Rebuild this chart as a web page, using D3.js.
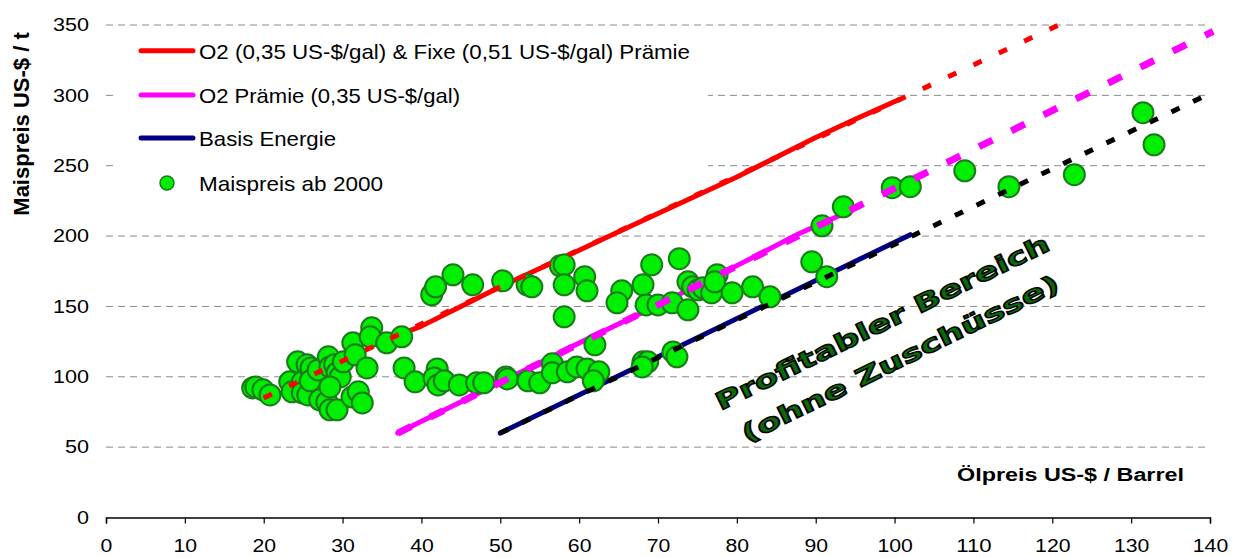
<!DOCTYPE html>
<html>
<head>
<meta charset="utf-8">
<script src="https://cdn.jsdelivr.net/npm/d3@7"></script>
<style>
body { margin:0; background:#fff; }
svg { display:block; }
</style>
</head>
<body>
<svg id="SvgContainer"></svg>
<script>
// Maispreis ab 2000 (oil price / corn price)
var oilPrice = [18.6,19.0,19.9,20.8,23.3,23.6,24.3,24.9,24.9,25.5,
    25.6,26.0,25.9,26.9,27.1,28.0,28.4,29.3,28.2,28.4,
    29.0,29.3,29.7,28.4,30.1,31.3,31.6,33.1,31.2,32.0,
    32.5,33.7,33.5,35.6,37.5,37.8,39.2,41.3,41.8,44.0,
    46.5,50.3,53.4,54.0,57.6,58.1,58.1,58.1,60.7,61.0,
    42.0,41.6,42.1,42.9,44.8,47.0,47.9,50.7,50.9,53.5,
    55.0,56.6,56.6,58.5,59.7,61.0,62.5,61.8,62.0,65.4,
    64.8,68.1,69.2,72.7,68.5,70.0,71.8,73.8,73.8,74.4,
    75.1,75.7,76.8,77.5,77.2,79.4,82.0,84.2,68.1,68.7,
    68.0,71.9,72.4,89.5,91.4,90.8,93.5,99.7,102.0,108.9,
    114.5,122.8,131.5,132.9];
var cornPrice = [92.1,92.8,90.7,87.1,96.4,89.3,110.6,96.4,88.6,108.5,
    87.1,106.3,97.1,104.9,83.6,82.1,76.5,76.5,114.2,107.0,
    108.5,102.8,99.9,92.8,110.6,124.1,115.6,106.3,85.7,89.3,
    81.4,134.8,128.4,124.1,128.4,106.3,96.4,158.3,163.9,172.5,
    165.4,168.2,165.4,163.9,178.9,179.6,165.4,142.6,171.1,161.1,
    105.6,99.2,94.2,97.1,94.2,95.7,95.7,99.9,98.5,97.1,
    95.7,109.2,102.8,103.5,107.0,105.6,103.5,97.1,122.7,161.1,
    152.6,165.4,179.6,183.9,151.1,151.1,152.6,147.6,167.5,163.9,
    161.8,163.2,159.7,172.5,167.5,159.7,163.9,156.8,110.6,110.6,
    107.0,117.7,114.2,181.7,171.1,207.3,220.8,234.4,235.1,246.4,
    235.1,243.6,287.7,264.9];

// O2 & Fixe Praemie
var redSolidX = [37.7,40,45,50,55,60,65,70,75,80,85,90,95,100.6];
var redSolidY = [131,136,150,164,177,190,203,216,229,242,256,270,283,297];
var redTrendX = [20,120.8];
var redTrendY = [85,350];

// O2 Praemie
var magentaSolidX = [37,50,60,70,80,88,93.6];
var magentaSolidY = [60,96,124,151,179,202,216];
var magentaTrendX = [37,140.4];
var magentaTrendY = [60,345.5];

// Basis Energie
var navySolidX = [50,102];
var navySolidY = [60,201];
var blackTrendX = [50,139.5];
var blackTrendY = [60,300];

var xTickValues = [0,10,20,30,40,50,60,70,80,90,100,110,120,130,140];
var yTickValues = [0,50,100,150,200,250,300,350];

var legendLabels = ["O2 (0,35 US-$/gal) & Fixe (0,51 US-$/gal) Prämie",
    "O2 Prämie (0,35 US-$/gal)", "Basis Energie", "Maispreis ab 2000"];
var legendLengths = [491, 261, 137, 184];

var fontFamily = "'Liberation Sans', Arial, sans-serif";

function DrawChart() {
    var width = 1238;
    var height = 557;

    var x = d3.scaleLinear().domain([0,140]).range([106,1210]);
    var y = d3.scaleLinear().domain([0,350]).range([517.5,25]);

    var svg = d3.select("svg")
        .attr("width",width)
        .attr("height",height);

    // gridlines
    svg.append("g").selectAll("line")
        .data(yTickValues.filter(function (d) { return d > 0; }))
        .enter()
        .append("line")
        .attr("x1",x(0))
        .attr("x2",1205)
        .attr("y1",function (d) { return y(d); })
        .attr("y2",function (d) { return y(d); })
        .attr("stroke","#8a8a8a")
        .attr("stroke-width",1)
        .attr("stroke-dasharray","7,5");

    // legend background hides the gridlines
    svg.append("rect")
        .attr("x",114).attr("y",32)
        .attr("width",594).attr("height",173)
        .attr("fill","#fff");

    // axes
    var gx = svg.append("g")
        .attr("transform","translate(0,517.5)")
        .call(d3.axisBottom(x).tickValues(xTickValues).tickSize(6).tickPadding(16));
    gx.select(".domain").attr("stroke","#000").attr("stroke-width",1.5);
    gx.selectAll(".tick line").attr("stroke","#000").attr("stroke-width",1.2);
    gx.selectAll("text")
        .attr("font-size",18)
        .attr("font-family",fontFamily)
        .attr("fill","#000")
        .attr("textLength",function (d) { return String(d).length*11.8; })
        .attr("lengthAdjust","spacingAndGlyphs");

    var gy = svg.append("g")
        .attr("transform","translate(106,0)")
        .call(d3.axisLeft(y).tickValues(yTickValues).tickSize(0).tickPadding(17));
    gy.select(".domain").remove();
    gy.selectAll("text")
        .attr("font-size",18)
        .attr("font-family",fontFamily)
        .attr("fill","#000")
        .attr("textLength",function (d) { return String(d).length*12; })
        .attr("lengthAdjust","spacingAndGlyphs");

    // axis titles
    svg.append("text")
        .attr("transform","translate(28.5,124) rotate(-90)")
        .attr("text-anchor","middle")
        .attr("font-family",fontFamily)
        .attr("font-weight","bold")
        .attr("font-size",22)
        .text("Maispreis US-$ / t");

    svg.append("text")
        .attr("x",957)
        .attr("y",481)
        .attr("font-family",fontFamily)
        .attr("font-weight","bold")
        .attr("font-size",18)
        .attr("textLength",227)
        .attr("lengthAdjust","spacingAndGlyphs")
        .text("Ölpreis US-$ / Barrel");

    var line = d3.line()
        .x(function (d) { return x(d[0]); })
        .y(function (d) { return y(d[1]); });

    // solid lines
    var solids = [
        {xs: redSolidX, ys: redSolidY, color: "#ff0000"},
        {xs: magentaSolidX, ys: magentaSolidY, color: "#ff00ff"},
        {xs: navySolidX, ys: navySolidY, color: "#000080"}
    ];
    svg.append("g").selectAll("path")
        .data(solids)
        .enter()
        .append("path")
        .attr("d",function (d) { return line(d3.zip(d.xs,d.ys)); })
        .attr("fill","none")
        .attr("stroke",function (d) { return d.color; })
        .attr("stroke-width",5)
        .attr("stroke-linecap","round")
        .attr("stroke-linejoin","round");

    // scatter
    svg.append("g").selectAll("circle")
        .data(d3.zip(oilPrice,cornPrice))
        .enter()
        .append("circle")
        .attr("cx",function (d) { return x(d[0]); })
        .attr("cy",function (d) { return y(d[1]); })
        .attr("r",10.5)
        .attr("fill","#00ee00")
        .attr("stroke","#1b7a1b")
        .attr("stroke-width",2);

    // dashed trend lines
    var trends = [
        {xs: redTrendX, ys: redTrendY, color: "#ff0000", dash: "9,19", w: 5},
        {xs: magentaTrendX, ys: magentaTrendY, color: "#ff00ff", dash: "15,21", w: 7},
        {xs: blackTrendX, ys: blackTrendY, color: "#000", dash: "9,15", w: 5}
    ];
    svg.append("g").selectAll("path")
        .data(trends)
        .enter()
        .append("path")
        .attr("d",function (d) { return line(d3.zip(d.xs,d.ys)); })
        .attr("fill","none")
        .attr("stroke",function (d) { return d.color; })
        .attr("stroke-width",function (d) { return d.w; })
        .attr("stroke-dasharray",function (d) { return d.dash; });

    // legend
    var legendY = [50.7,95,138,183];
    var legendColors = ["#ff0000","#ff00ff","#000080"];
    var legend = svg.append("g");
    legend.selectAll("line")
        .data(legendColors)
        .enter()
        .append("line")
        .attr("x1",141).attr("x2",193)
        .attr("y1",function (d,i) { return legendY[i]; })
        .attr("y2",function (d,i) { return legendY[i]; })
        .attr("stroke",function (d) { return d; })
        .attr("stroke-width",5)
        .attr("stroke-linecap","round");
    legend.append("circle")
        .attr("cx",167).attr("cy",legendY[3])
        .attr("r",7)
        .attr("fill","#00ee00")
        .attr("stroke","#1b7a1b")
        .attr("stroke-width",1.5);
    legend.selectAll("text")
        .data(legendLabels)
        .enter()
        .append("text")
        .attr("x",199)
        .attr("y",function (d,i) { return legendY[i]+8; })
        .attr("font-family",fontFamily)
        .attr("font-size",21)
        .attr("textLength",function (d,i) { return legendLengths[i]; })
        .attr("lengthAdjust","spacingAndGlyphs")
        .text(function (d) { return d; });

    // annotation
    var note = svg.append("g")
        .attr("font-family","'DejaVu Sans', sans-serif")
        .attr("font-weight","bold")
        .attr("font-size",24)
        .attr("fill","#0a6a0a")
        .attr("stroke","#000")
        .attr("stroke-width",1.4)
        .attr("text-anchor","middle");
    note.append("text")
        .attr("transform","translate(886,330) rotate(-26)")
        .attr("textLength",368)
        .attr("lengthAdjust","spacingAndGlyphs")
        .text("Profitabler Bereich");
    note.append("text")
        .attr("transform","translate(904,366) rotate(-26)")
        .attr("textLength",350)
        .attr("lengthAdjust","spacingAndGlyphs")
        .text("(ohne Zuschüsse)");
}

DrawChart();
</script>
</body>
</html>
